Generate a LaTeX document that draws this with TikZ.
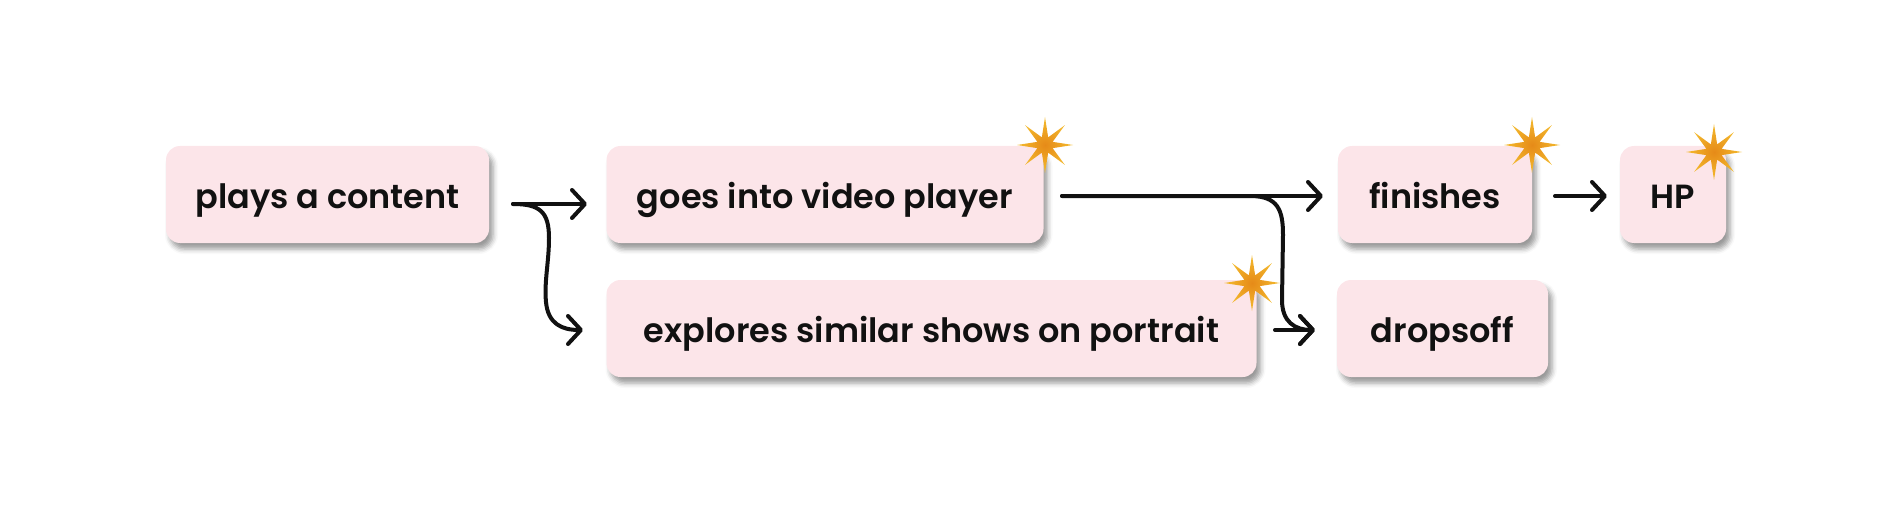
\documentclass[tikz,border=0pt]{standalone}
\usepackage{fontspec}
\setmainfont{Poppins}[UprightFont={* SemiBold}]
\usetikzlibrary{arrows.meta,shapes.geometric,shadows.blur}
\definecolor{boxfill}{HTML}{FCE5E9}
\definecolor{starin}{HTML}{E68A18}
\definecolor{starout}{HTML}{F4BC2E}
\definecolor{ink}{HTML}{111111}
\tikzset{
  card/.style={fill=boxfill, rounded corners=14pt, minimum height=97pt, inner sep=0pt,
    text=ink, font=\fontsize{33.5}{38}\selectfont, text height=27pt, text depth=0pt,
    blur shadow={shadow xshift=4pt, shadow yshift=-6pt, shadow blur radius=5pt, shadow opacity=40}},
  burst/.style={star, star points=8, star point ratio=3.4, minimum size=56pt, inner sep=0pt,
    draw=none, shade, inner color=starin, outer color=starout},
  flow/.style={line width=4pt, line cap=round, line join=round, draw=ink,
    -{Straight Barb[length=13pt, width=28pt, line width=4pt, round]}}
}
\begin{document}
\begin{tikzpicture}[x=1pt, y=-1pt]
\useasboundingbox (0,0) rectangle (1880,508);
\node[card, minimum width=323pt] (plays) at (327.5,194.5) {plays a content};
\node[card, minimum width=437pt] (goes) at (825,194.5) {goes into video player};
\node[card, minimum width=650pt] (expl) at (931.5,328.5) {explores similar shows on portrait};
\node[card, minimum width=194pt] (fin) at (1435,194.5) {finishes};
\node[card, minimum width=106pt] (hp) at (1673,194.5) {HP};
\node[card, minimum width=211pt] (drop) at (1442.5,328.5) {dropsoff};
\node[burst] (s1) at (1045,145) {};
\node[burst] (s2) at (1252,283) {};
\node[burst] (s3) at (1532,145) {};
\node[burst] (s4) at (1714,152) {};
\coordinate (a1s) at (513,204);
\coordinate (a1e) at (587,204);
\coordinate (a1d) at (583,330);
\coordinate (a2s) at (1062,196);
\coordinate (a2e) at (1323,196);
\coordinate (a2d) at (1315,330);
\coordinate (a3s) at (1275,330);
\coordinate (a4s) at (1555,196);
\coordinate (a4e) at (1607,196);
\draw[flow] (a1s) -- (a1e);
\draw[flow] (a1s) .. controls (540,204) and (549,212) .. (549,238)
  .. controls (549,262) and (544,282) .. (546,302)
  .. controls (548,324) and (562,330) .. (a1d);
\draw[flow] (a2s) -- (a2e);
\draw[flow] (a2s) -- (1250,196) .. controls (1278,196) and (1283,210) .. (1283,235)
  -- (1282,300) .. controls (1282,322) and (1295,330) .. (a2d);
\draw[flow] (a3s) -- (a2d);
\draw[flow] (a4s) -- (a4e);
\end{tikzpicture}
\end{document}
